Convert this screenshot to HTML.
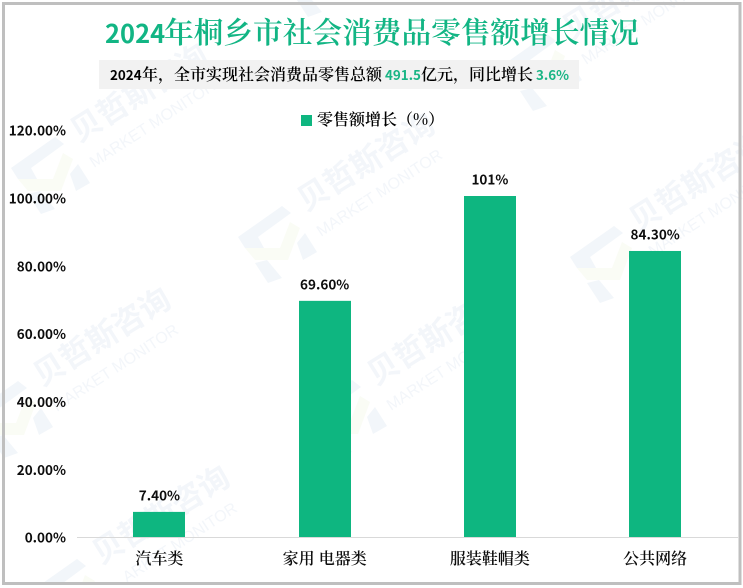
<!DOCTYPE html>
<html lang="zh-CN">
<head>
<meta charset="utf-8">
<title>2024年桐乡市社会消费品零售额增长情况</title>
<style>
html,body{margin:0;padding:0;background:#fff;}
#frame{position:relative;width:743px;height:588px;overflow:hidden;background:#fff;}
#chart{position:absolute;left:0;top:0;overflow:hidden;}
.num{font-family:"Noto Sans CJK SC",sans-serif;font-weight:700;}
</style>
</head>
<body>
<div id="frame">
<svg id="chart" width="743" height="588" viewBox="0 0 743 588" xmlns="http://www.w3.org/2000/svg">
  <rect x="3.5" y="3.5" width="736.5" height="580" fill="#fff"/>
  <defs>
    <g id="wm-logo">
      <polygon points="-62,25 -18,-6 -9,1 -42,25 -36,36 -55,36" fill="#f2f6fa"/>
      <polygon points="-55,36 -20,36 -10,10 0,16 -12,48 -45,48" fill="#fafcf5"/>
      <polygon points="-45,51 -33,48 -18,66 -32,71" fill="#f2f6fa"/>
      <polygon points="-3,31 5,21 17,40 3,48" fill="#f2f6fa"/>
    </g>
  </defs>
  <g fill="#f3f6fa">
    <g transform="translate(340,-54)"><use href="#wm-logo"/><text transform="translate(6,0) rotate(-32)" font-family="'Noto Sans CJK SC',sans-serif" font-weight="700" font-size="31">贝哲斯咨询</text><text transform="translate(21,25) rotate(-33)" font-family="'Liberation Sans',sans-serif" font-size="16">MARKET MONITOR</text></g>
    <g transform="translate(565,40)"><use href="#wm-logo"/><text transform="translate(6,0) rotate(-32)" font-family="'Noto Sans CJK SC',sans-serif" font-weight="700" font-size="31">贝哲斯咨询</text><text transform="translate(21,25) rotate(-33)" font-family="'Liberation Sans',sans-serif" font-size="16">MARKET MONITOR</text></g>
    <g transform="translate(73,143)"><use href="#wm-logo"/><text transform="translate(6,0) rotate(-32)" font-family="'Noto Sans CJK SC',sans-serif" font-weight="700" font-size="31">贝哲斯咨询</text><text transform="translate(21,25) rotate(-33)" font-family="'Liberation Sans',sans-serif" font-size="16">MARKET MONITOR</text></g>
    <g transform="translate(300,212)"><use href="#wm-logo"/><text transform="translate(6,0) rotate(-32)" font-family="'Noto Sans CJK SC',sans-serif" font-weight="700" font-size="31">贝哲斯咨询</text><text transform="translate(21,25) rotate(-33)" font-family="'Liberation Sans',sans-serif" font-size="16">MARKET MONITOR</text></g>
    <g transform="translate(632,232)"><use href="#wm-logo"/><text transform="translate(6,0) rotate(-32)" font-family="'Noto Sans CJK SC',sans-serif" font-weight="700" font-size="31">贝哲斯咨询</text><text transform="translate(21,25) rotate(-33)" font-family="'Liberation Sans',sans-serif" font-size="16">MARKET MONITOR</text></g>
    <g transform="translate(36,387)"><use href="#wm-logo"/><text transform="translate(6,0) rotate(-32)" font-family="'Noto Sans CJK SC',sans-serif" font-weight="700" font-size="31">贝哲斯咨询</text><text transform="translate(21,25) rotate(-33)" font-family="'Liberation Sans',sans-serif" font-size="16">MARKET MONITOR</text></g>
    <g transform="translate(370,386)"><use href="#wm-logo"/><text transform="translate(6,0) rotate(-32)" font-family="'Noto Sans CJK SC',sans-serif" font-weight="700" font-size="31">贝哲斯咨询</text><text transform="translate(21,25) rotate(-33)" font-family="'Liberation Sans',sans-serif" font-size="16">MARKET MONITOR</text></g>
    <g transform="translate(95,565)">
      <polygon points="-52,18 -18,-6 -9,1 -32,18" fill="#f2f6fa"/>
      <polygon points="-13,18 -10,10 0,16 -1,18" fill="#fafcf5"/>
      <text transform="translate(6,0) rotate(-32)" font-family="'Noto Sans CJK SC',sans-serif" font-weight="700" font-size="31">贝哲斯咨询</text>
      <text transform="translate(32,18) rotate(-33)" font-family="'Liberation Sans',sans-serif" font-size="16">ARKET MONITOR</text>
    </g>
  </g>
  <rect x="3.5" y="3.5" width="736.5" height="580" fill="none" stroke="#bfbfbf" stroke-width="3"/>
  <text y="43" fill="#12b584"><tspan x="105" font-family="'Noto Sans CJK SC',sans-serif" font-weight="700" font-size="25.5">2024</tspan><tspan x="164" font-family="'Noto Serif CJK SC',serif" font-weight="600" font-size="29.7">年桐乡市社会消费品零售额增长情况</tspan></text>
  <rect x="99" y="60" width="480" height="29" fill="#f2f2f2"/>
  <text y="80" fill="#000" font-size="16"><tspan x="110" font-family="'Noto Sans CJK SC',sans-serif" font-weight="700" font-size="13.4">2024</tspan><tspan x="142" font-family="'Noto Serif CJK SC',serif" font-weight="600">年，全市实现社会消费品零售总额</tspan><tspan x="385" font-family="'Noto Sans CJK SC',sans-serif" font-weight="700" font-size="13.4" fill="#1ab585">491.5</tspan><tspan x="421" font-family="'Noto Serif CJK SC',serif" font-weight="600">亿元，同比增长</tspan><tspan x="536" font-family="'Noto Sans CJK SC',sans-serif" font-weight="700" font-size="13.4" fill="#1ab585">3.6%</tspan></text>
  <g>
    <rect x="301" y="115" width="11" height="11" fill="#0eb680"/>
    <text x="317" y="125" font-family="'Noto Serif CJK SC',serif" font-weight="600" font-size="16" fill="#000">零售额增长（%）</text>
  </g>
  <g id="y-axis"></g>
  <g id="bars"></g>
  <line x1="77" y1="537.5" x2="738" y2="537.5" stroke="#d9d9d9" stroke-width="1"/>
  <g id="x-axis"></g>
</svg>
</div>
<script>
const categories = ["汽车类", "家用 电器类", "服装鞋帽类", "公共网络"];
const growthValues = [7.4, 69.6, 100.5, 84.3];
const valueLabels = ["7.40%", "69.60%", "101%", "84.30%"];
const yTicks = [0, 20, 40, 60, 80, 100, 120];
const yTickLabels = ["0.00%", "20.00%", "40.00%", "60.00%", "80.00%", "100.00%", "120.00%"];

const NS = "http://www.w3.org/2000/svg";
const plot = { left: 77, right: 738, base: 537, unit: 339.3 / 100, barWidth: 52 };
function yScale(v) { return plot.base - v * plot.unit; }
function xCenter(i) { return plot.left + (plot.right - plot.left) * (i + 0.5) / categories.length - 0.2; }

const yGroup = document.getElementById("y-axis");
const barGroup = document.getElementById("bars");
const xGroup = document.getElementById("x-axis");

yTicks.forEach(function (t, i) {
  const el = document.createElementNS(NS, "text");
  
  
  el.setAttribute("class", "num");
  el.setAttribute("x", 66);
  el.setAttribute("y", yScale(t) + 5.7);
  el.setAttribute("text-anchor", "end");
  el.setAttribute("font-size", "13.5");
  el.setAttribute("fill", "#0d0d0d");
  el.textContent = yTickLabels[i];
  yGroup.appendChild(el);
});

growthValues.forEach(function (v, i) {
  const c = xCenter(i);
  const bar = document.createElementNS(NS, "rect");
  
  
  bar.setAttribute("x", Math.round(c - plot.barWidth / 2));
  bar.setAttribute("y", yScale(v));
  bar.setAttribute("width", plot.barWidth);
  bar.setAttribute("height", plot.base - yScale(v));
  bar.setAttribute("fill", "#0eb680");
  barGroup.appendChild(bar);

  const label = document.createElementNS(NS, "text");
  
  
  label.setAttribute("class", "num");
  label.setAttribute("x", c);
  label.setAttribute("y", yScale(v) - 11.3);
  label.setAttribute("text-anchor", "middle");
  label.setAttribute("font-size", "13.5");
  label.setAttribute("fill", "#0d0d0d");
  label.textContent = valueLabels[i];
  barGroup.appendChild(label);
});

categories.forEach(function (name, i) {
  const el = document.createElementNS(NS, "text");
  
  
  el.setAttribute("x", xCenter(i));
  el.setAttribute("y", 564);
  el.setAttribute("text-anchor", "middle");
  el.setAttribute("font-family", "'Noto Serif CJK SC',serif");
  el.setAttribute("font-weight", "600");
  el.setAttribute("font-size", "16");
  el.setAttribute("fill", "#0d0d0d");
  el.textContent = name;
  xGroup.appendChild(el);
});
</script>
</body>
</html>
